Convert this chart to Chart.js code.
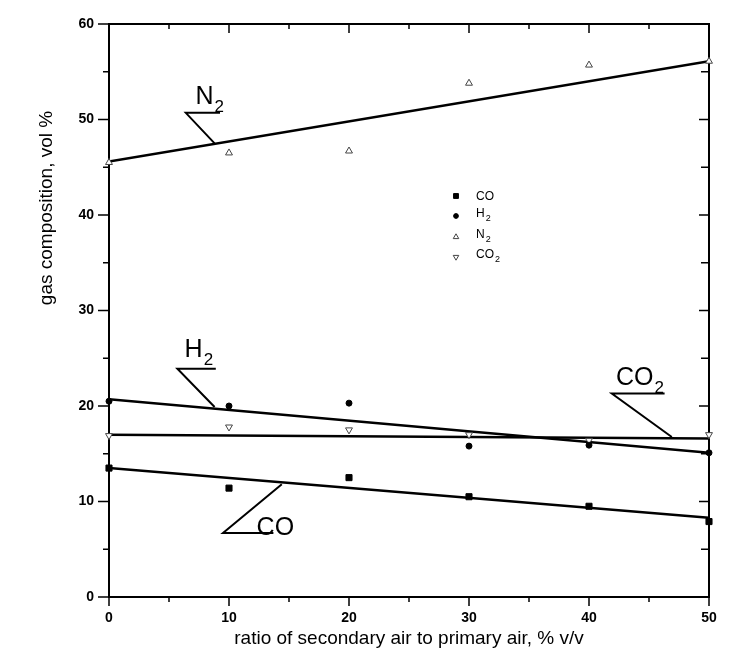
<!DOCTYPE html>
<html>
<head>
<meta charset="utf-8">
<script src="https://cdn.jsdelivr.net/npm/chart.js@4/dist/chart.umd.min.js"></script>
<style>
html, body { margin: 0; padding: 0; background: #fff; }
</style>
</head>
<body>
<canvas id="gasChart" width="753" height="659"></canvas>
<script>
// measured points, ratio of secondary to primary air (% v/v)
const ratios = [0, 10, 20, 30, 40, 50];
const coValues = [13.5, 11.4, 12.5, 10.5, 9.5, 7.9];
const h2Values = [20.5, 20.0, 20.3, 15.8, 15.9, 15.1];
const n2Values = [45.5, 46.5, 46.7, 53.8, 55.7, 56.1];
const co2Values = [16.9, 17.8, 17.5, 17.0, 16.4, 17.0];

// straight fit lines, value at each end
const fitEnds = [0, 50];
const coFit = [13.5, 8.3];
const h2Fit = [20.7, 15.1];
const n2Fit = [45.6, 56.1];
const co2Fit = [17.0, 16.6];

const xTickValues = [0, 10, 20, 30, 40, 50];
const yTickValues = [0, 10, 20, 30, 40, 50, 60];

// callout labels (in data units): text anchor and leader line
const calloutNames = ['N', 'H', 'CO', 'CO'];
const calloutSubs = ['2', '2', '2', ''];
const calloutTextX = [7.2, 6.3, 42.25, 12.3];
const calloutTextY = [51.6, 25.1, 22.2, 6.5];
const calloutLegs = [
    [[9.25, 50.7], [6.4, 50.7], [8.8, 47.5]],
    [[8.9, 23.9], [5.7, 23.9], [8.8, 19.9]],
    [[46.3, 21.3], [41.9, 21.3], [46.9, 16.75]],
    [[13.7, 6.7], [9.5, 6.7], [14.4, 11.8]]
];

const legendNames = ['CO', 'H', 'N', 'CO'];
const legendSubs = ['', '2', '2', '2'];

const FONT = "'Liberation Sans', Arial, sans-serif";

const pts = vals => ratios.map((r, i) => ({ x: r, y: vals[i] }));
const fit = vals => fitEnds.map((r, i) => ({ x: r, y: vals[i] }));

const pointSets = [
    { label: 'CO', data: pts(coValues), pointStyle: 'rect', pointRadius: 4.3, pointBackgroundColor: '#000', pointBorderColor: '#000', pointBorderWidth: 1 },
    { label: 'H2', data: pts(h2Values), pointStyle: 'circle', pointRadius: 3, pointBackgroundColor: '#000', pointBorderColor: '#000', pointBorderWidth: 1 },
    { label: 'N2', data: pts(n2Values), pointStyle: 'triangle', pointRadius: 4, pointBackgroundColor: '#fff', pointBorderColor: '#444', pointBorderWidth: 1 },
    { label: 'CO2', data: pts(co2Values), pointStyle: 'triangle', rotation: 180, pointRadius: 4, pointBackgroundColor: '#fff', pointBorderColor: '#444', pointBorderWidth: 1 }
].map(d => Object.assign(d, { showLine: false, clip: false, order: 0 }));

const fitSets = [coFit, h2Fit, n2Fit, co2Fit].map(v => ({
    data: fit(v), borderColor: '#000', borderWidth: 2.5, pointRadius: 0, order: 1
}));

const legSets = calloutLegs.map(leg => ({
    data: leg.map(p => ({ x: p[0], y: p[1] })), borderColor: '#000', borderWidth: 2, pointRadius: 0, order: 1
}));

function subText(ctx, main, sub, x, y, size, subSize, drop) {
    ctx.font = size + 'px ' + FONT;
    ctx.fillText(main, x, y);
    if (sub) {
        const w = ctx.measureText(main).width;
        ctx.font = subSize + 'px ' + FONT;
        ctx.fillText(sub, x + w + 1, y + drop);
    }
}

const framePlugin = {
    id: 'frame',
    beforeDatasetsDraw(chart) {
        const { ctx, chartArea: a, scales: { x, y } } = chart;
        ctx.save();
        ctx.strokeStyle = '#000';
        ctx.lineWidth = 2;
        ctx.strokeRect(a.left, a.top, a.right - a.left, a.bottom - a.top);
        ctx.lineWidth = 1.5;
        ctx.beginPath();
        for (let v = 0; v <= 50; v += 5) {
            const px = x.getPixelForValue(v);
            const len = v % 10 === 0 ? 9 : 5;
            ctx.moveTo(px, a.bottom); ctx.lineTo(px, a.bottom + len);
            ctx.moveTo(px, a.top); ctx.lineTo(px, a.top + len);
        }
        for (let v = 0; v <= 60; v += 5) {
            const py = y.getPixelForValue(v);
            const len = v % 10 === 0 ? 11 : 6;
            ctx.moveTo(a.left, py); ctx.lineTo(a.left - len, py);
            ctx.moveTo(a.right, py); ctx.lineTo(a.right - (v % 10 === 0 ? 10 : 8), py);
        }
        ctx.stroke();
        ctx.restore();
    },
    afterDraw(chart) {
        const { ctx, chartArea: a, scales: { x, y } } = chart;
        ctx.save();
        ctx.fillStyle = '#000';
        ctx.textAlign = 'left';
        ctx.textBaseline = 'alphabetic';
        // callout names
        calloutNames.forEach((n, i) => {
            subText(ctx, n, calloutSubs[i], x.getPixelForValue(calloutTextX[i]), y.getPixelForValue(calloutTextY[i]), 25, 17, 8);
        });
        // legend inside plot
        const lx = a.left + 347, tx = a.left + 367;
        const rows = [a.top + 172, a.top + 192, a.top + 213, a.top + 233];
        rows.forEach((ry, i) => {
            const ds = pointSets[i];
            ctx.fillStyle = ds.pointBackgroundColor;
            ctx.strokeStyle = ds.pointBorderColor;
            ctx.lineWidth = 1;
            Chart.helpers.drawPoint(ctx, { pointStyle: ds.pointStyle, rotation: ds.rotation || 0, radius: ds.pointRadius * 0.8, borderWidth: 1 }, lx, ry);
            ctx.fillStyle = '#000';
            subText(ctx, legendNames[i], legendSubs[i], tx, ry + (legendSubs[i] ? 1 : 4), 12, 9, 4);
        });
        // y axis title
        ctx.translate(47, 208);
        ctx.rotate(-Math.PI / 2);
        ctx.textAlign = 'center';
        ctx.textBaseline = 'middle';
        ctx.font = '19px ' + FONT;
        ctx.fillText('gas composition, vol %', 0, 0);
        ctx.restore();
    }
};

new Chart(document.getElementById('gasChart'), {
    type: 'line',
    data: { datasets: [...pointSets, ...fitSets, ...legSets] },
    options: {
        responsive: false,
        animation: false,
        layout: { padding: { top: 24, right: 44, left: 0, bottom: 0 } },
        plugins: { legend: { display: false }, tooltip: { enabled: false } },
        scales: {
            x: {
                type: 'linear', min: 0, max: 50,
                afterBuildTicks: s => { s.ticks = xTickValues.map(v => ({ value: v })); },
                afterFit: s => { s.height = 62; },
                grid: { display: false, drawTicks: false },
                border: { display: false },
                ticks: { padding: 13, color: '#000', font: { family: FONT, size: 14, weight: 'bold' }, maxRotation: 0 },
                title: { display: true, text: 'ratio of secondary air to primary air, % v/v', color: '#000', font: { family: FONT, size: 19 }, padding: { top: 0, bottom: 9 } }
            },
            y: {
                type: 'linear', min: 0, max: 60,
                afterBuildTicks: s => { s.ticks = yTickValues.map(v => ({ value: v })); },
                afterFit: s => { s.width = 109; },
                grid: { display: false, drawTicks: false },
                border: { display: false },
                ticks: { padding: 15, color: '#000', font: { family: FONT, size: 14, weight: 'bold' } }
            }
        }
    },
    plugins: [framePlugin]
});
</script>
</body>
</html>
